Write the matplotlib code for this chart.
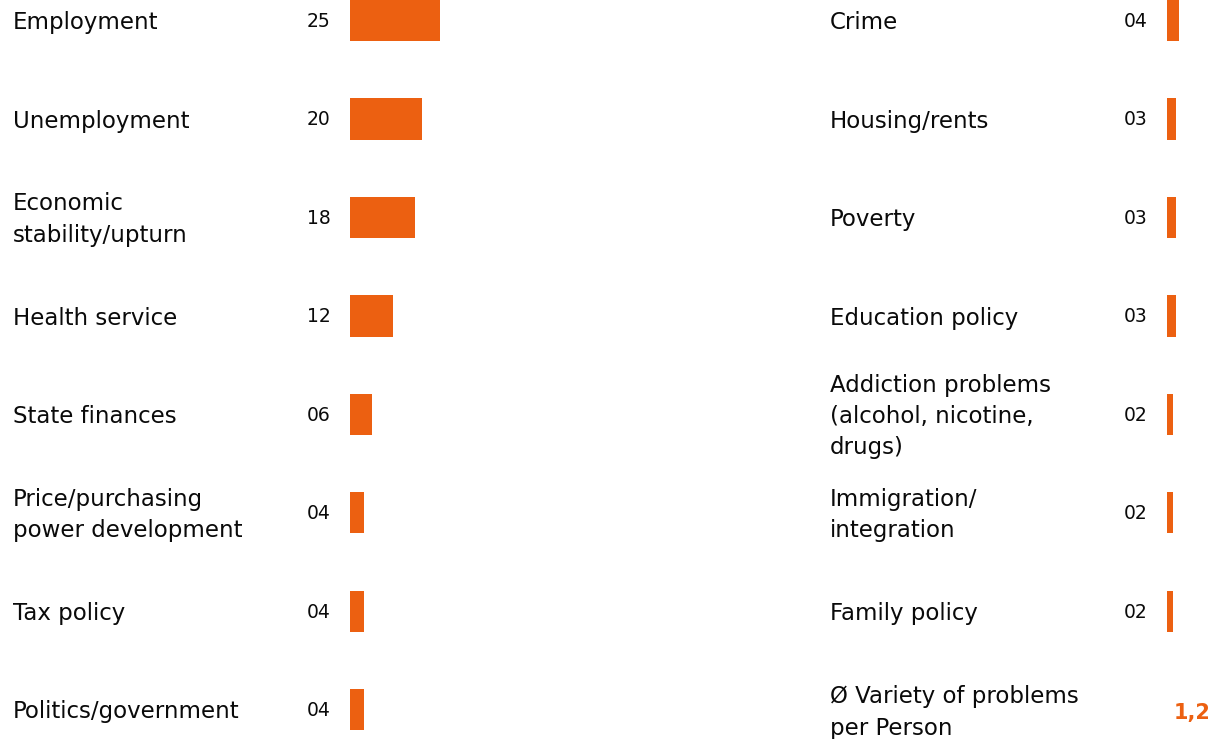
import matplotlib
matplotlib.use("Agg")
import matplotlib.pyplot as plt
from matplotlib import transforms

# Most important problems (share of mentions)
left_labels = [
    "Employment",
    "Unemployment",
    "Economic\nstability/upturn",
    "Health service",
    "State finances",
    "Price/purchasing\npower development",
    "Tax policy",
    "Politics/government",
]
left_values = [25, 20, 18, 12, 6, 4, 4, 4]

right_labels = [
    "Crime",
    "Housing/rents",
    "Poverty",
    "Education policy",
    "Addiction problems\n(alcohol, nicotine,\ndrugs)",
    "Immigration/\nintegration",
    "Family policy",
]
right_values = [4, 3, 3, 3, 2, 2, 2]

avg_label = "Ø Variety of problems\nper Person"
avg_value = "1,2"

ORANGE = "#EC6011"
TEXT = "#0a0a0a"

W, H = 1215, 739
fig = plt.figure(figsize=(W / 100, H / 100), dpi=100)
fig.patch.set_facecolor("white")

row_top = 20.5     # centre of first row, px from top
row_pitch = 98.45  # px between rows
y_top = -row_top / row_pitch
y_bot = (H - row_top) / row_pitch


def make_axes(x0_px, x1_px, px_per_unit):
    ax = fig.add_axes([x0_px / W, 0, (x1_px - x0_px) / W, 1])
    ax.set_xlim(0, (x1_px - x0_px) / px_per_unit)
    ax.set_ylim(y_bot, y_top)
    ax.axis("off")
    return ax


ax_l = make_axes(350, 800, 3.6)
ax_r = make_axes(1166.5, W, 3.0)

bar_h = 0.42
ax_l.barh(range(len(left_values)), left_values, height=bar_h, left=0,
          color=ORANGE, edgecolor="none")
ax_r.barh(range(len(right_values)), right_values, height=bar_h, left=0,
          color=ORANGE, edgecolor="none")

tr_l = transforms.blended_transform_factory(fig.transFigure, ax_l.transData)
tr_r = transforms.blended_transform_factory(fig.transFigure, ax_r.transData)

label_dy = 0.022   # text sits slightly below the bar centre
label_kw = dict(fontsize=16.5, color=TEXT, va="center", ha="left",
                family="DejaVu Sans", linespacing=1.46)
value_kw = dict(fontsize=13.5, color=TEXT, va="center", ha="left",
                family="DejaVu Sans")

for i, (lab, val) in enumerate(zip(left_labels, left_values)):
    fig.text(13 / W, i + label_dy, lab, transform=tr_l, **label_kw)
    fig.text(307 / W, i + 0.01, f"{val:02d}", transform=tr_l, **value_kw)

for i, (lab, val) in enumerate(zip(right_labels, right_values)):
    fig.text(830 / W, i + label_dy, lab, transform=tr_r, **label_kw)
    fig.text(1124 / W, i + 0.01, f"{val:02d}", transform=tr_r, **value_kw)

n = len(right_labels)
fig.text(830 / W, n + 0.03, avg_label, transform=tr_r, **label_kw)
fig.text(1211 / W, n + 0.03, avg_value, transform=tr_r, fontsize=15,
         fontweight="bold", color=ORANGE, va="center", ha="right",
         family="DejaVu Sans")

fig.savefig("out.png", dpi=100, facecolor="white")
